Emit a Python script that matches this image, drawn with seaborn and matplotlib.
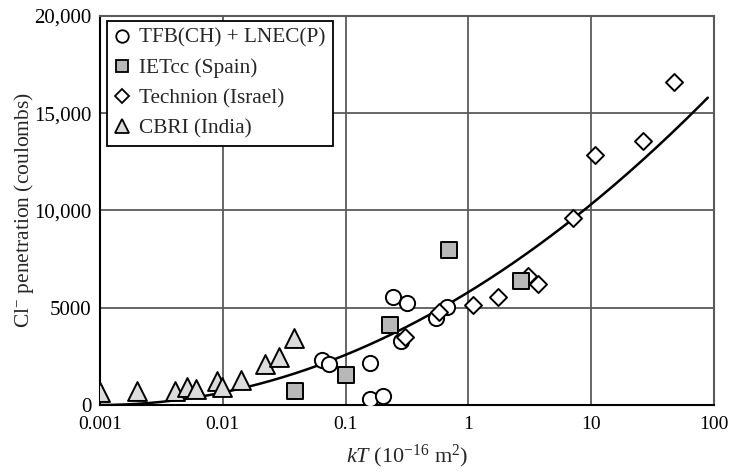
import numpy as np
import pandas as pd
import matplotlib
matplotlib.use("Agg")
import matplotlib.pyplot as plt
from matplotlib.ticker import FixedLocator, LogLocator, NullFormatter, MultipleLocator
from matplotlib.lines import Line2D
import seaborn as sns

# Measured kT (1e-16 m^2) and chloride penetration (coulombs) per laboratory
tfb_kt = [0.0641, 0.0731, 0.157, 0.159, 0.201, 0.2455, 0.284, 0.315, 0.546, 0.667]
tfb_q = [2314, 2093, 308, 2175, 478, 5568, 3306, 5229, 4457, 5023]

ietcc_kt = [0.0385, 0.1014, 0.228, 0.701, 2.68]
ietcc_q = [735, 1542, 4113, 7969, 6391]

technion_kt = [0.302, 0.58, 1.084, 1.73, 3.03, 3.66, 7.05, 10.8, 26.5, 47.3]
technion_q = [3480, 4797, 5141, 5568, 6648, 6221, 9599, 12853, 13558, 16591]

cbri_kt = [0.001, 0.00202, 0.0041, 0.00507, 0.00603, 0.00894, 0.0099, 0.014,
           0.0222, 0.0285, 0.038]
cbri_q = [684, 735, 735, 910, 807, 1218, 910, 1285, 2108, 2483, 3429]

series_names = ["TFB(CH) + LNEC(P)", "IETcc (Spain)", "Technion (Israel)", "CBRI (India)"]

# Trend line: Q = a * (log10(kT) + 3)^p over the fitted range
fit_a = 645.0
fit_p = 2.0
fit_range = (0.001, 89.0)

x_ticks = [0.001, 0.01, 0.1, 1, 10, 100]
x_tick_labels = ["0.001", "0.01", "0.1", "1", "10", "100"]
y_ticks = [0, 5000, 10000, 15000, 20000]
y_tick_labels = ["0", "5000", "10,000", "15,000", "20,000"]

sns.set_style("white")
plt.rcParams["font.family"] = ["Liberation Serif", "DejaVu Serif"]
plt.rcParams["mathtext.fontset"] = "custom"
plt.rcParams["mathtext.rm"] = "Liberation Serif"
plt.rcParams["mathtext.it"] = "Liberation Serif:italic"

df = pd.concat([
    pd.DataFrame({"kT": tfb_kt, "Q": tfb_q, "src": series_names[0]}),
    pd.DataFrame({"kT": ietcc_kt, "Q": ietcc_q, "src": series_names[1]}),
    pd.DataFrame({"kT": technion_kt, "Q": technion_q, "src": series_names[2]}),
    pd.DataFrame({"kT": cbri_kt, "Q": cbri_q, "src": series_names[3]}),
], ignore_index=True)

fig = plt.figure(figsize=(7.29, 4.72), dpi=100)
ax = fig.add_axes([100 / 729, 1 - 405 / 472, 614 / 729, 389 / 472])
ax.set_xscale("log")

ax.set_xlim(0.001, 100)
ax.set_ylim(0, 20000)

# grid lines under everything
ax.set_axisbelow(True)
for xv in x_ticks[1:-1]:
    ax.axvline(xv, color="#5a5a5a", lw=1.3, zorder=0)
for yv in y_ticks[1:-1]:
    ax.axhline(yv, color="#5a5a5a", lw=1.3, zorder=0)

# fitted curve
u = np.geomspace(fit_range[0], fit_range[1], 300)
curve = pd.DataFrame({"kT": u, "Q": fit_a * (np.log10(u) + 3) ** fit_p})
sns.lineplot(data=curve, x="kT", y="Q", color="black", lw=1.8, ax=ax,
             zorder=2, legend=False)

styles = {
    series_names[0]: dict(marker="o", facecolor="white", s=120),
    series_names[1]: dict(marker="s", facecolor="#b8b8b8", s=125),
    series_names[2]: dict(marker="D", facecolor="white", s=75),
    series_names[3]: dict(marker="^", facecolor="#dcdcdc", s=185),
}
order = [series_names[3], series_names[0], series_names[2], series_names[1]]
for name in order:
    st = styles[name]
    sns.scatterplot(data=df[df["src"] == name], x="kT", y="Q", ax=ax,
                    marker=st["marker"], color=st["facecolor"], s=st["s"],
                    edgecolor="black", linewidth=1.4, zorder=3, legend=False)

# legend
handles = [
    Line2D([], [], ls="none", marker="o", mfc="white", mec="black", mew=1.3, ms=9),
    Line2D([], [], ls="none", marker="s", mfc="#b8b8b8", mec="black", mew=1.3, ms=9),
    Line2D([], [], ls="none", marker="D", mfc="white", mec="black", mew=1.3, ms=7),
    Line2D([], [], ls="none", marker="^", mfc="#dcdcdc", mec="black", mew=1.3, ms=10.5),
]
leg = ax.legend(handles, series_names, loc="upper left", bbox_to_anchor=(0.012, 0.988),
                frameon=True, fancybox=False, framealpha=1, edgecolor="black",
                fontsize=15.3, handlelength=0.7, handletextpad=0.45,
                borderpad=0.35, labelspacing=0.48, borderaxespad=0)
leg.get_frame().set_linewidth(1.3)

# ticks
ax.xaxis.set_major_locator(FixedLocator(x_ticks))
ax.set_xticklabels(x_tick_labels)
ax.xaxis.set_minor_locator(LogLocator(base=10, subs=np.arange(2, 10)))
ax.xaxis.set_minor_formatter(NullFormatter())
ax.yaxis.set_major_locator(FixedLocator(y_ticks))
ax.set_yticklabels(y_tick_labels)
ax.yaxis.set_minor_locator(MultipleLocator(500))
ax.tick_params(axis="both", which="both", direction="in", colors="black",
               labelsize=15, width=1.3)
ax.tick_params(axis="x", which="major", length=9, pad=8, labelsize=14)
ax.tick_params(axis="x", which="minor", length=6)
ax.tick_params(axis="y", which="major", length=6, pad=6)
ax.tick_params(axis="y", which="minor", length=6)

for side in ["left", "bottom", "right", "top"]:
    ax.spines[side].set_color("black")
    ax.spines[side].set_linewidth(1.5)
ax.spines["right"].set_color("#5a5a5a")
ax.spines["top"].set_color("#5a5a5a")

ax.set_xlabel(r"$kT$ (10$^{-16}$ m$^{2}$)", fontsize=16, labelpad=7)
ax.set_ylabel(r"Cl$^{-}$ penetration (coulombs)", fontsize=15.5, labelpad=-1)

fig.savefig("out.png", dpi=100)
